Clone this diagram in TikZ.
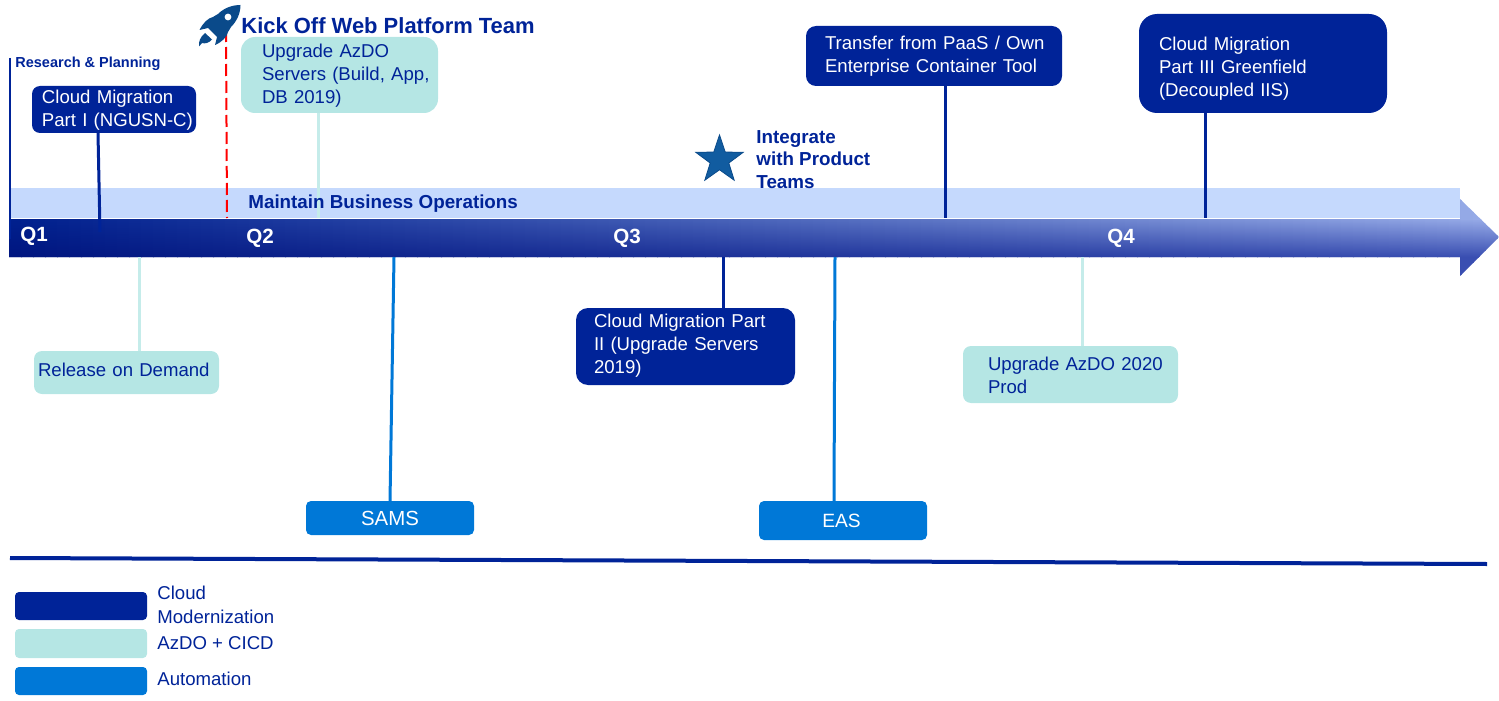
\documentclass[tikz,border=0pt]{standalone}
\usepackage{fontspec}
\setmainfont{Liberation Sans}
\usetikzlibrary{shapes.geometric,calc}
\definecolor{navy}{HTML}{002398}
\definecolor{mint}{HTML}{B5E6E4}
\definecolor{mintline}{HTML}{C5ECEA}
\definecolor{autoblue}{HTML}{0078D7}
\definecolor{band}{HTML}{C5D9FD}
\definecolor{rocketblue}{HTML}{0A4A8A}
\definecolor{starblue}{HTML}{115CA0}
\definecolor{lefttop}{HTML}{00208E}
\definecolor{leftbot}{HTML}{00157F}
\definecolor{righttop}{HTML}{98ACE8}
\definecolor{rightbot}{HTML}{3A4FB2}
\tikzset{
  x=0.5pt,y=-0.5pt,
  boxbase/.style={inner sep=0pt,outer sep=0pt,align=left,font=\fontsize{9.3}{11.5}\selectfont},
  cloudbox/.style={boxbase,fill=navy,text=white},
  mintbox/.style={boxbase,fill=mint,text=navy},
  autobox/.style={boxbase,fill=autoblue,text=white,align=center,rounded corners=2.5pt},
  conn/.style={line width=1.5pt},
  qlabel/.style={inner sep=0pt,anchor=west,text=white,font=\bfseries\fontsize{10.3}{12}\selectfont},
  btext/.style={inner sep=0pt,anchor=west,align=left,text=navy,font=\bfseries\fontsize{9.4}{11.2}\selectfont},
  legendtext/.style={inner sep=0pt,anchor=west,align=left,text=navy,font=\fontsize{9.3}{11.7}\selectfont},
  legendbox/.style={inner sep=0pt,outer sep=0pt,minimum width=66pt,rounded corners=2pt,anchor=north west},
}
% left padding, vertical offset, lines
\newcommand{\bt}[3]{\hspace*{#1}\raisebox{#2}[0pt][0pt]{\begin{tabular}{@{}l@{}}#3\end{tabular}}}
\begin{document}
\begin{tikzpicture}
\useasboundingbox (0,0) rectangle (1499,701);
% light band
\fill[band] (9,188) rectangle (1460,218);
% timeline arrow: bilinear gradient built from vertical shades
\begin{scope}
\clip (9,219) -- (1460,219) -- (1460,199) -- (1499,237) -- (1460,276) -- (1460,257) -- (9,257) -- cycle;
\foreach \i in {0,...,124}{
  \pgfmathsetmacro{\pc}{100*\i/124}
  \pgfmathsetmacro{\xa}{9+\i*12}
  \pgfmathsetmacro{\xb}{\xa+13}
  \colorlet{ct}{righttop!\pc!lefttop}
  \colorlet{cb}{rightbot!\pc!leftbot}
  \fill[ct] (\xa,199) rectangle (\xb,220);
  \fill[cb] (\xa,256) rectangle (\xb,276);
  \shade[top color=ct,bottom color=cb,shading angle=0] (\xa,219) rectangle (\xb,257);
}
\end{scope}
% frame line and dashed line
\coordinate (rpstart) at (10,58);
\coordinate (rpend) at (10,239);
\draw[navy,line width=0.8pt] (rpstart) -- (rpend);
\coordinate (kickA) at (226,30);
\coordinate (kickB) at (227,218);
\draw[red,line width=1pt,dash pattern=on 6pt off 2.5pt] (kickA) -- (kickB);
% boxes
\node[cloudbox,rounded corners=4pt,minimum width=82pt,minimum height=23.5pt,text width=82pt] (cm1) at (114,109.5) {\bt{5pt}{-2.8pt}{Cloud Migration\\Part I (NGUSN-C)}};
\node[mintbox,rounded corners=7pt,minimum width=98.5pt,minimum height=38pt,text width=98.5pt] (azdo) at (339.5,75) {\bt{10.5pt}{-2.5pt}{Upgrade AzDO\\Servers (Build, App,\\DB 2019)}};
\node[cloudbox,rounded corners=5pt,minimum width=128pt,minimum height=30pt,text width=128pt] (transfer) at (934,56) {\bt{9.5pt}{-2.5pt}{Transfer from PaaS / Own\\Enterprise Container Tool}};
\node[cloudbox,rounded corners=9pt,minimum width=124pt,minimum height=49.5pt,text width=124pt] (cm3) at (1263,63.5) {\bt{10pt}{-4.8pt}{Cloud Migration\\Part III Greenfield\\(Decoupled IIS)}};
\node[cloudbox,rounded corners=6pt,minimum width=109.5pt,minimum height=38.5pt,text width=109.5pt] (cm2) at (685.5,346.5) {\bt{9pt}{-2pt}{Cloud Migration Part\\II (Upgrade Servers\\2019)}};
\node[mintbox,rounded corners=4pt,minimum width=92.5pt,minimum height=21.5pt,text width=92.5pt] (rod) at (126.5,372.5) {\bt{2pt}{-2pt}{Release on Demand}};
\node[mintbox,rounded corners=4pt,minimum width=107.5pt,minimum height=28.5pt,text width=107.5pt] (up) at (1070.5,374.5) {\bt{12.5pt}{-3.7pt}{Upgrade AzDO 2020\\Prod}};
\node[autobox,minimum width=84pt,minimum height=17pt,font=\fontsize{10.2}{12}\selectfont] (sams) at (390,518) {SAMS};
\node[autobox,minimum width=84pt,minimum height=19.5pt,font=\fontsize{9.6}{12}\selectfont,text width=80pt] (eas) at (843,520.5) {\hspace*{-1.5pt}EAS};
% connector ends on the timeline
\coordinate (c1) at (100,232);
\coordinate (c2) at (318,218);
\coordinate (c3) at (139,257);
\coordinate (c4) at (394,257);
\coordinate (c5) at (945,218);
\coordinate (c6) at (1205,218);
\coordinate (c7) at (723,257);
\coordinate (c8) at (835,257);
\coordinate (c9) at (1082,257);
\coordinate (s1) at (98,133);
\coordinate (s4) at (390,501);
\coordinate (s8) at (834,501);
% connectors
\draw[conn,navy] (s1) -- (c1);
\draw[conn,mintline] (c2 |- azdo.south) -- (c2);
\draw[conn,mintline] (c3) -- (c3 |- rod.north);
\draw[conn,autoblue] (c4) -- (s4);
\draw[conn,navy] (c5 |- transfer.south) -- (c5);
\draw[conn,navy] (c6 |- cm3.south) -- (c6);
\draw[conn,navy] (c7) -- (c7 |- cm2.north);
\draw[conn,autoblue] (c8) -- (s8);
\draw[conn,mintline] (c9) -- (c9 |- up.north);
% labels
\node[qlabel] (q1) at (20,236.5) {Q1};
\node[qlabel] (q2) at (246,238) {Q2};
\node[qlabel] (q3) at (613,238) {Q3};
\node[qlabel] (q4) at (1107,238) {Q4};
\node[btext] (maintain) at (248,203.5) {Maintain Business Operations};
\node[btext,font=\bfseries\fontsize{10.98}{13}\selectfont] (kick) at (241,26) {Kick Off Web Platform Team};
\node[btext,font=\bfseries\fontsize{7.25}{9}\selectfont] (research) at (15,64) {Research \& Planning};
\node[btext] (integrate) at (756,159.5) {Integrate\\with Product\\Teams};
% star
\node[star,star points=5,star point ratio=2.55,minimum size=25pt,inner sep=0pt,fill=starblue,draw=rocketblue,line width=0.4pt] (starmark) at (719.5,160) {};
% rocket
\fill[rocketblue] (240.5,5) .. controls (232,5) and (224,8) .. (218,14) -- (213,17) .. controls (208,18) and (203,23) .. (199.5,30) -- (208,28) -- (217,37) -- (215,45) .. controls (222,42) and (227,37) .. (228,32) -- (231,27) .. controls (237,21) and (240.5,13) .. (240.5,5) -- cycle;
\fill[white] (228,17) circle (1.7pt);
\fill[rocketblue] (205,33) -- (212,39.5) .. controls (209,43) and (205,44) .. (202,43) -- (199,46.5) .. controls (198.5,42) and (200,37) .. (205,33) -- cycle;
% divider
\coordinate (divA) at (10,558);
\coordinate (divB) at (1487,564);
\draw[navy,line width=2pt] (divA) -- (divB);
% legend
\node[legendbox,fill=navy,minimum height=14pt] (l1) at (15,592) {};
\node[legendbox,fill=mint,minimum height=14.5pt] (l2) at (15,629) {};
\node[legendbox,fill=autoblue,minimum height=14pt] (l3) at (15,667) {};
\node[legendtext] (t1) at (157,605) {Cloud\\Modernization};
\node[legendtext] (t2) at (157,643) {AzDO + CICD};
\node[legendtext] (t3) at (157,679) {Automation};
\end{tikzpicture}
\end{document}
